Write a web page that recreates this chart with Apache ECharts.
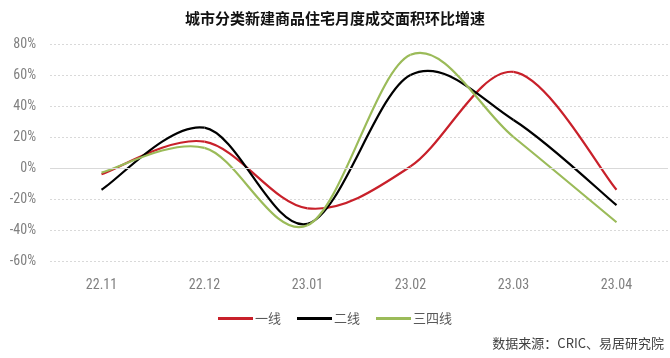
<!DOCTYPE html>
<html><head><meta charset="utf-8">
<script src="https://cdn.jsdelivr.net/npm/echarts@6/dist/echarts.min.js"></script>
<style>html,body{margin:0;padding:0;background:#fff}#c{width:670px;height:358px}</style>
</head><body><div id="c"></div>
<script>
const categories = ['22.11','22.12','23.01','23.02','23.03','23.04'];
const tier1 = [-4, 17, -26, 1, 62, -14];
const tier2 = [-14, 26, -36, 60, 31, -24];
const tier34 = [-3, 13, -37, 73, 20, -35];
const seriesNames = ['一线','二线','三四线'];
const colors = ['#C8202A','#000000','#9BBB59'];

const chart = echarts.init(document.getElementById('c'));

// Excel-like smoothed line (Catmull-Rom Bezier) drawn through the axis scales
function curveSeries(name, values, color) {
  return {
    name, type: 'custom', coordinateSystem: 'cartesian2d',
    itemStyle: {color},
    data: values.map((v, i) => [i, v]),
    encode: {x: 0, y: 1},
    renderItem: function (params, api) {
      const i = params.dataIndex;
      const n = values.length;
      if (i >= n - 1) return null;
      const P = j => api.coord([Math.max(0, Math.min(n - 1, j)), values[Math.max(0, Math.min(n - 1, j))]]);
      const p0 = P(i - 1), p1 = P(i), p2 = P(i + 1), p3 = P(i + 2);
      const c1 = [p1[0] + (p2[0] - p0[0]) / 6, p1[1] + (p2[1] - p0[1]) / 6];
      const c2 = [p2[0] - (p3[0] - p1[0]) / 6, p2[1] - (p3[1] - p1[1]) / 6];
      return {
        type: 'bezierCurve',
        shape: {x1: p1[0], y1: p1[1], cpx1: c1[0], cpy1: c1[1], cpx2: c2[0], cpy2: c2[1], x2: p2[0], y2: p2[1]},
        style: {stroke: color, lineWidth: 2.2, fill: null}
      };
    }
  };
}

chart.setOption({
  animation: false,
  title: {text: '城市分类新建商品住宅月度成交面积环比增速', left: 'center', top: 6,
    textStyle: {fontFamily: 'Noto Sans CJK SC', fontSize: 15, fontWeight: 'bold', color: '#111'}},
  grid: {left: 50, right: 2, top: 44, bottom: 97},
  legend: {bottom: 28, left: 'center', itemWidth: 35, itemHeight: 3, itemGap: 16, icon: 'rect',
    textStyle: {fontFamily: 'Noto Sans CJK SC', fontSize: 13, color: '#595959', padding: [0, 0, 0, -3]},
    data: seriesNames.map((s, k) => ({name: s, itemStyle: {color: colors[k]}}))},
  graphic: [{type: 'text', right: 6, bottom: 8,
    style: {text: '数据来源：CRIC、易居研究院', font: '13px "Noto Sans CJK SC"', fill: '#404040'}}],
  xAxis: {type: 'category', data: categories, boundaryGap: true,
    axisLine: {show: false}, axisTick: {show: false},
    axisLabel: {color: '#808080', fontSize: 14, margin: 17, fontFamily: '"Liberation Sans Narrow", "Roboto Condensed", Roboto'}},
  yAxis: {type: 'value', min: -60, max: 80, interval: 20,
    axisLabel: {formatter: '{value}%', color: '#808080', fontSize: 14, margin: 14, fontFamily: '"Liberation Sans Narrow", "Roboto Condensed", Roboto'},
    axisLine: {show: false}, axisTick: {show: false},
    splitLine: {lineStyle: {color: '#d9d9d9', type: [2, 2]}}},
  series: [
    {name: 'zero', type: 'line', data: categories.map(() => 0), symbol: 'none', silent: true,
      lineStyle: {opacity: 0}, z: 1,
      markLine: {symbol: 'none', silent: true, label: {show: false},
        lineStyle: {color: '#d9d9d9', type: 'solid', width: 1}, data: [{yAxis: 0}]}},
    curveSeries(seriesNames[0], tier1, colors[0]),
    curveSeries(seriesNames[1], tier2, colors[1]),
    curveSeries(seriesNames[2], tier34, colors[2])
  ]
});
</script></body></html>
